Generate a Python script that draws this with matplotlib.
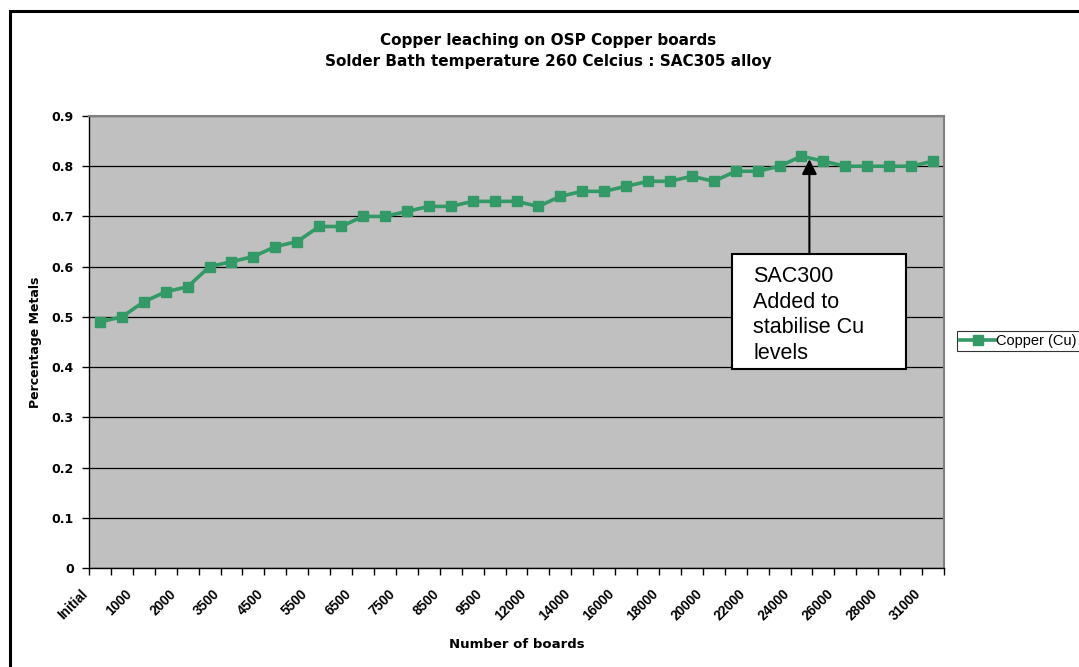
import matplotlib
matplotlib.use("Agg")
import matplotlib.pyplot as plt
from matplotlib.patches import Rectangle
from matplotlib.ticker import FixedLocator, NullFormatter
from matplotlib.transforms import ScaledTranslation

categories = ["Initial", "500", "1000", "1500", "2000", "3000", "3500", "4000",
              "4500", "5000", "5500", "6000", "6500", "7000", "7500", "8000",
              "8500", "9000", "9500", "11000", "12000", "13000", "14000", "15000",
              "16000", "17000", "18000", "19000", "20000", "21000", "22000", "23000",
              "24000", "25000", "26000", "27000", "28000", "30000", "31000"]
copper = [0.49, 0.50, 0.53, 0.55, 0.56, 0.60, 0.61, 0.62, 0.64, 0.65,
          0.68, 0.68, 0.70, 0.70, 0.71, 0.72, 0.72, 0.73, 0.73, 0.73,
          0.72, 0.74, 0.75, 0.75, 0.76, 0.77, 0.77, 0.78, 0.77, 0.79,
          0.79, 0.80, 0.82, 0.81, 0.80, 0.80, 0.80, 0.80, 0.81]
y_ticks = [0, 0.1, 0.2, 0.3, 0.4, 0.5, 0.6, 0.7, 0.8, 0.9]
series_name = "Copper (Cu)"
note_text = "SAC300\nAdded to\nstabilise Cu\nlevels"
title_lines = ["Copper leaching on OSP Copper boards",
               "Solder Bath temperature 260 Celcius : SAC305 alloy"]
x_title = "Number of boards"
y_title = "Percentage Metals"

plt.rcParams['font.family'] = ['Liberation Sans', 'DejaVu Sans']
WIDE = ['DejaVu Sans']

W, H = 1079, 667
fig = plt.figure(figsize=(W / 100, H / 100), dpi=100)
fig.patch.set_facecolor('white')

# outer chart border
fig.patches.append(Rectangle((10 / W, -0.05), 1.2, (H - 10.8) / H + 0.05,
                             transform=fig.transFigure, fill=False,
                             edgecolor='black', linewidth=2.2, zorder=0))

ax = fig.add_axes([89 / W, (H - 568) / H, (944 - 89) / W, (568 - 116) / H])
ax.set_facecolor('#C0C0C0')

x = list(range(len(categories)))
green = '#339966'
line, = ax.plot(x, copper, color=green, linewidth=2.6, marker='s',
                markersize=7, markeredgecolor=green, markerfacecolor=green,
                zorder=3, label=series_name)

ax.set_xlim(-0.5, len(categories) - 0.5)
ax.set_ylim(0, 0.9)
ax.set_yticks(y_ticks)
ax.set_yticklabels([f"{v:g}" for v in y_ticks], fontsize=9, fontweight='bold',
                   family=WIDE)
ax.yaxis.grid(True, color='black', linewidth=0.9)
ax.set_axisbelow(True)

# category labels every 2nd category, ticks at category boundaries
ax.set_xticks(x[::2])
ax.set_xticklabels(categories[::2], rotation=45, ha='right', va='top',
                   fontsize=9.8, fontweight='bold', rotation_mode='anchor')
ax.tick_params(axis='x', which='major', length=0, pad=0)
offset = ScaledTranslation(-19 / 100, -19 / 100, fig.dpi_scale_trans)
for lbl in ax.get_xticklabels():
    lbl.set_transform(lbl.get_transform() + offset)
ax.xaxis.set_minor_locator(FixedLocator([i - 0.5 for i in range(len(categories) + 1)]))
ax.xaxis.set_minor_formatter(NullFormatter())
ax.tick_params(axis='x', which='minor', length=5, width=1, color='black', direction='out')
ax.tick_params(axis='y', length=5, width=1, color='black', direction='out', pad=6)

for s in ['top', 'right']:
    ax.spines[s].set_color('#808080')
    ax.spines[s].set_linewidth(1.5)
for s in ['left', 'bottom']:
    ax.spines[s].set_color('black')
    ax.spines[s].set_linewidth(1.0)

fig.text(517 / W, 1 - 644 / H, x_title, ha='center', va='center',
         fontsize=9.5, fontweight='bold', family=WIDE)
fig.text(36 / W, 1 - 342 / H, y_title, ha='center', va='center', rotation=90,
         fontsize=9, fontweight='bold', family=WIDE)

fig.text(548 / W, 1 - 40.5 / H, title_lines[0],
         ha='center', va='center', fontsize=11, fontweight='bold', family=WIDE)
fig.text(548 / W, 1 - 61.5 / H, title_lines[1],
         ha='center', va='center', fontsize=11, fontweight='bold', family=WIDE)

# annotation box and arrow
box_x0, box_x1 = 28.83, 36.77
box_y0, box_y1 = 0.396, 0.625
ax.add_patch(Rectangle((box_x0, box_y0), box_x1 - box_x0, box_y1 - box_y0,
                       facecolor='white', edgecolor='black', linewidth=1.5, zorder=4))
ax.text(29.79, 0.601, note_text, ha='left', va='top',
        fontsize=15.5, linespacing=1.28, zorder=5)
ax.annotate("", xy=(32.36, 0.814), xytext=(32.36, box_y1),
            arrowprops=dict(arrowstyle='-|>,head_length=0.9,head_width=0.45',
                            color='black', lw=1.5, shrinkA=0, shrinkB=0),
            zorder=5)

leg = fig.legend(handles=[line], loc='upper left',
                 bbox_to_anchor=(957 / W, 1 - 331 / H), fontsize=10.5,
                 frameon=True, fancybox=False, borderpad=0.2,
                 handlelength=2.5, handletextpad=0.0, borderaxespad=0)
leg.get_frame().set_edgecolor('black')
leg.get_frame().set_linewidth(0.8)

fig.savefig("out.png", dpi=100)
